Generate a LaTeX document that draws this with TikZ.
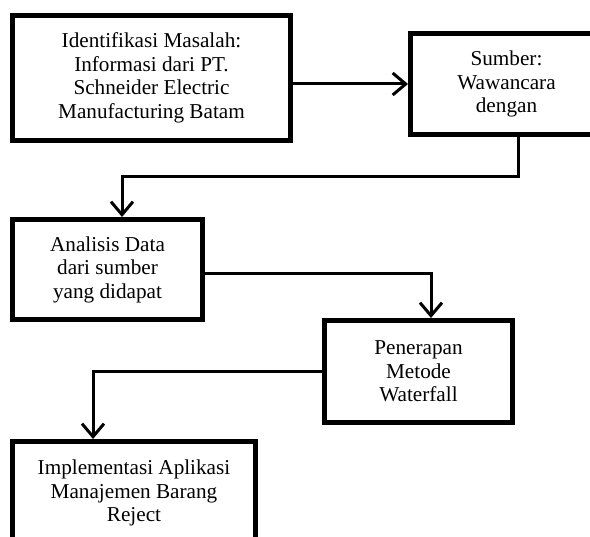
\documentclass[tikz,border=0pt]{standalone}
\usepackage{fontspec}
\setmainfont{Liberation Serif}
\usetikzlibrary{arrows.meta}

\tikzset{
  box/.style={draw, line width=5pt, rectangle, align=center, inner sep=0pt,
              font=\fontsize{21.2}{23.5}\selectfont},
  link/.style={line width=3pt, -{Straight Barb[length=13pt,width=22pt,line width=3pt]}}
}

\begin{document}
\begin{tikzpicture}[x=1pt, y=-1pt]
        \useasboundingbox (0,0) rectangle (590,537);
        \clip (0,0) rectangle (590,537);
        \node[box, minimum width=278pt, minimum height=125pt] (ident) at (151.5,78)
                {Identifikasi Masalah:\\Informasi dari PT.\\Schneider Electric\\Manufacturing Batam};
        \node[box, minimum width=192pt, minimum height=101pt] (sumber) at (506.5,84)
                {Sumber:\\Wawancara\\dengan};
        \node[box, minimum width=190pt, minimum height=100pt] (analisis) at (107.5,269.5)
                {Analisis Data\\dari sumber\\yang didapat};
        \node[box, minimum width=188pt, minimum height=102pt] (waterfall) at (418.5,371.5)
                {Penerapan\\Metode\\Waterfall};
        \node[box, minimum width=243pt, minimum height=103pt] (implement) at (134,493)
                {Implementasi Aplikasi\\Manajemen Barang\\Reject};

        \draw[link] (ident.east |- sumber.west) -- (sumber.west);
        \draw[link] (sumber.south -| 518,0) |- (122,177) -- (analisis.north -| 122,0);
        \draw[link] (analisis.east |- 0,274) -| (waterfall.north -| 431,0);
        \draw[link] (waterfall.west |- 0,372) -| (implement.north -| 93,0);
\end{tikzpicture}
\end{document}
